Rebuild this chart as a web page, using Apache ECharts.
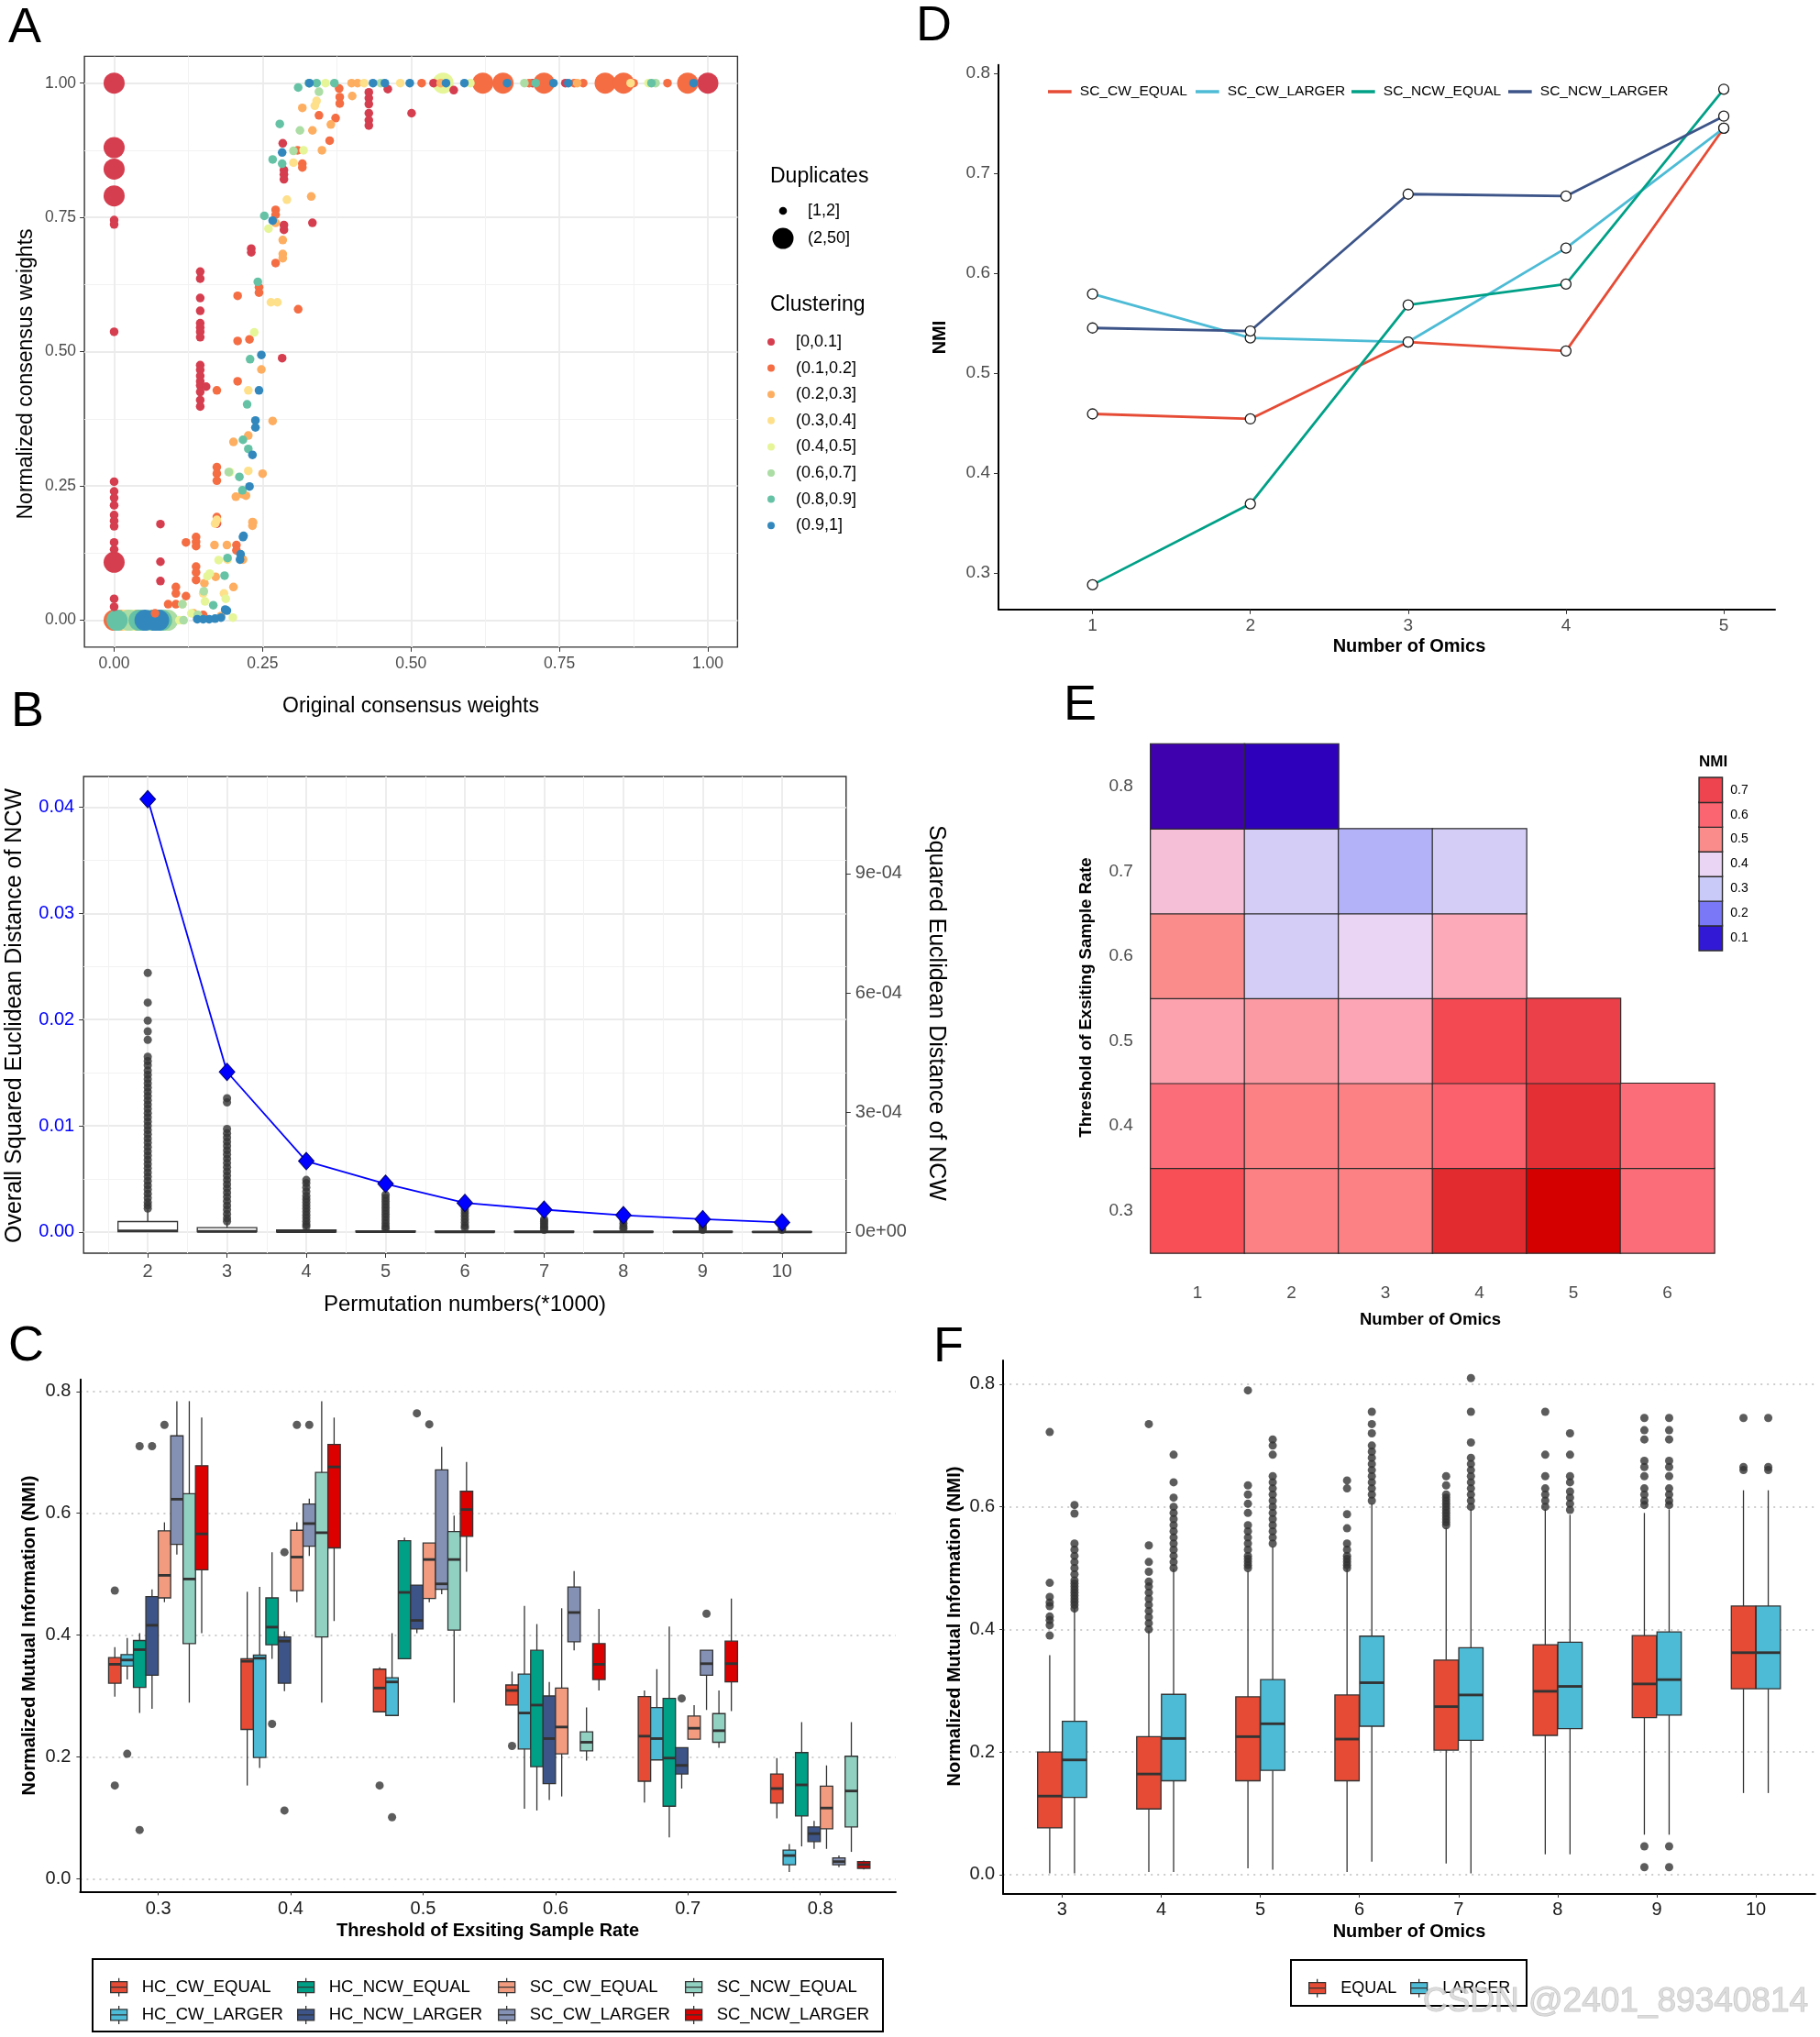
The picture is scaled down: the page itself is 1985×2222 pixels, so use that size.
<!DOCTYPE html>
<html>
<head>
<meta charset="utf-8">
<script src="https://cdn.jsdelivr.net/npm/echarts@6/dist/echarts.min.js"></script>
<style>
  html, body { margin: 0; padding: 0; background: #fff; }
  #chart { width: 1985px; height: 2222px; }
</style>
</head>
<body>
<div id="chart"></div>
<script>
// ---------------- Panel A : consensus weights ----------------
const clusterLabels = ['[0,0.1]', '(0.1,0.2]', '(0.2,0.3]', '(0.3,0.4]', '(0.4,0.5]', '(0.6,0.7]', '(0.8,0.9]', '(0.9,1]'];
const dupLabels = ['[1,2]', '(2,50]'];
const weightTicks = [0, 0.25, 0.5, 0.75, 1];
// [original weight, normalized weight, duplicates class: 1 = [1,2], 2 = (2,50]]
const clust01 = [[0,1,2],[0,0.88,2],[0,0.84,2],[0,0.79,2],[0,0.745,1],[0,0.737,1],[0,0.537,1],
  [0,0.258,1],[0,0.24,1],[0,0.228,1],[0,0.214,1],[0,0.196,1],[0,0.185,1],[0,0.175,1],[0,0.145,1],[0,0.132,1],[0,0.108,2],[0,0.04,1],[0,0.025,1],
  [0.078,0.179,1],[0.078,0.109,1],[0.078,0.073,1],
  [0.145,0.649,1],[0.145,0.636,1],[0.145,0.6,1],[0.145,0.576,1],[0.145,0.553,1],[0.145,0.545,1],[0.145,0.537,1],[0.145,0.527,1],
  [0.145,0.475,1],[0.145,0.466,1],[0.145,0.455,1],[0.145,0.445,1],[0.145,0.437,1],[0.145,0.425,1],[0.145,0.41,1],[0.145,0.398,1],[0.155,0.435,1],
  [0.173,0.18,1],[0.231,0.692,1],[0.231,0.685,1],
  [0.284,0.888,1],[0.286,0.838,1],[0.286,0.83,1],[0.286,0.821,1],[0.286,0.736,1],[0.286,0.727,1],[0.283,0.488,1],[0.334,0.74,1],
  [0.429,0.983,1],[0.429,0.972,1],[0.429,0.961,1],[0.429,0.944,1],[0.429,0.931,1],[0.429,0.921,1],
  [0.461,0.989,1],[0.501,0.944,1],[0.572,0.987,1],[0.538,1,1],[0.705,1,1],[0.76,1,1],[1,1,2]];
const clust02 = [[0,0,2],[0.621,1,2],[0.655,1,2],[0.724,1,2],[0.827,1,2],[0.858,1,2],[0.966,1,2],
  [0.518,1,1],[0.699,1,1],[0.775,1,1],[0.79,1,1],[0.875,1,1],[0.932,1,1],[0.379,0.99,1],
  [0.38,0.974,1],[0.38,0.962,1],[0.373,0.935,1],[0.345,0.94,1],[0.363,0.893,1],[0.309,0.875,1],[0.317,0.85,1],[0.317,0.843,1],
  [0.272,0.764,1],[0.272,0.755,1],[0.272,0.665,1],[0.31,0.579,1],[0.244,0.62,1],[0.244,0.61,1],[0.208,0.604,1],[0.208,0.52,1],
  [0.228,0.523,1],[0.208,0.445,1],[0.173,0.428,1],
  [0.173,0.285,1],[0.173,0.273,1],[0.173,0.26,1],[0.173,0.192,1],[0.173,0.182,1],[0.206,0.14,1],[0.206,0.13,1],[0.216,0.114,1],
  [0.121,0.145,1],[0.138,0.155,1],[0.138,0.146,1],[0.138,0.138,1],[0.138,0.1,1],[0.138,0.089,1],[0.138,0.075,1],
  [0.104,0.062,1],[0.104,0.05,1],[0.104,0.03,1],[0.091,0.03,1],[0.121,0.045,1],[0.069,0.013,1],[0.15,0.01,1]];
const clust03 = [[0.012,0,2],[0.036,0,2],[0.4,1,1],[0.41,1,1],[0.55,1,1],[0.78,1,1],
  [0.401,0.976,1],[0.317,0.954,1],[0.334,0.912,1],[0.365,0.923,1],[0.35,0.875,1],[0.332,0.789,1],[0.272,0.74,1],
  [0.284,0.708,1],[0.284,0.682,1],[0.284,0.674,1],[0.248,0.467,1],[0.267,0.371,1],[0.226,0.344,1],[0.201,0.332,1],
  [0.25,0.273,1],[0.222,0.232,1],[0.216,0.235,1],[0.205,0.23,1],[0.233,0.183,1],[0.233,0.176,1],[0.234,0.182,1],
  [0.169,0.14,1],[0.19,0.14,1],[0.217,0.113,1],[0.171,0.081,1],[0.201,0.062,1],[0.152,0.069,1],[0.134,0.013,1],[0.18,0.008,1]];
const clust04 = [[0.02,0,2],[0.047,0,2],[0.421,1,1],[0.482,1,1],[0.87,1,1],
  [0.341,0.967,1],[0.338,0.958,1],[0.302,0.852,1],[0.291,0.783,1],[0.264,0.592,1],[0.275,0.592,1],[0.226,0.428,1],
  [0.226,0.278,1],[0.173,0.187,1],[0.17,0.18,1],[0.191,0.113,1],[0.115,0.03,1],[0.15,0.05,1],[0.185,0.05,1]];
const clust05 = [[0.03,0,2],[0.554,1,2],[0.356,1,1],[0.6,1,1],[0.9,1,1],
  [0.319,0.875,1],[0.26,0.729,1],[0.236,0.536,1],[0.195,0.276,1],[0.176,0.112,1],[0.161,0.087,1],[0.157,0.082,1],
  [0.153,0.035,1],[0.188,0.04,1],[0.13,0.013,1],[0.11,0,1],[0.2,0.005,1]];
const clust06 = [[0.025,0,2],[0.062,0,2],[0.09,0,2],[0.449,1,1],[0.691,1,1],[0.912,1,1],
  [0.345,0.984,1],[0.313,0.912,1],[0.302,0.874,1],[0.193,0.276,1],[0.151,0.054,1],[0.115,0.03,1],[0.141,0.01,1],[0.117,0,1]];
const clust07 = [[0.005,0,2],[0.042,0,2],[0.08,0,2],[0.328,1,1],[0.341,1,1],[0.371,1,1],[0.71,1,1],[0.905,1,1],
  [0.31,0.992,1],[0.279,0.924,1],[0.267,0.858,1],[0.283,0.85,1],[0.253,0.753,1],[0.242,0.63,1],[0.229,0.486,1],
  [0.224,0.402,1],[0.217,0.336,1],[0.226,0.319,1],[0.211,0.267,1],[0.216,0.242,1],[0.191,0.116,1],[0.186,0.083,1],[0.167,0.028,1]];
const clust08 = [[0.052,0,2],[0.068,0,2],[0.075,0,2],
  [0.329,1,1],[0.436,1,1],[0.456,1,1],[0.498,1,1],[0.559,1,1],[0.59,1,1],[0.662,1,1],[0.74,1,1],[0.765,1,1],[0.976,1,1],
  [0.283,0.871,1],[0.267,0.744,1],[0.248,0.494,1],[0.244,0.428,1],[0.238,0.372,1],[0.238,0.359,1],[0.233,0.308,1],
  [0.228,0.249,1],[0.217,0.155,1],[0.218,0.157,1],[0.213,0.123,1],[0.212,0.113,1],[0.19,0.018,1],[0.187,0.02,1],
  [0.18,0.005,1],[0.17,0.003,1],[0.16,0.002,1],[0.15,0.002,1],[0.14,0.002,1]];
const clusterPoints = [clust01, clust02, clust03, clust04, clust05, clust06, clust07, clust08];

// ---------------- Panel B : permutation numbers ----------------
const permCats = ['2', '3', '4', '5', '6', '7', '8', '9', '10'];
// [min, Q1, median, Q3, max] of overall squared euclidean distance
const permBoxes = [
  [0, 0.00003, 0.0001, 0.00098, 0.0021],
  [0, 0.00001, 0.00005, 0.0004, 0.0009],
  [0, 0, 0.00003, 0.00018, 0.0004],
  [0, 0, 0.00002, 0.00011, 0.00026],
  [0, 0, 0.00001, 0.00008, 0.00018],
  [0, 0, 0.00001, 0.00005, 0.00012],
  [0, 0, 0.00001, 0.00004, 0.0001],
  [0, 0, 0.00001, 0.00003, 0.00007],
  [0, 0, 0, 0.00002, 0.00005]
];
const permOutliers = [
  [0.0244,0.0216,0.0199,0.0189,0.0181,0.0165,0.0161,0.0157,0.0152,0.0148,0.0144,0.014,0.0136,0.0132,0.0128,0.0124,0.012,
   0.0116,0.0112,0.0108,0.0104,0.01,0.0096,0.0092,0.0088,0.0084,0.008,0.0076,0.0072,0.0068,0.0064,0.006,0.0056,0.0052,
   0.0048,0.0044,0.004,0.0036,0.0032,0.0028,0.0025,0.0022],
  [0.0126,0.0122,0.0097,0.0093,0.0089,0.0085,0.0081,0.0077,0.0073,0.0069,0.0065,0.0061,0.0057,0.0053,0.0049,0.0045,
   0.0041,0.0037,0.0033,0.0029,0.0025,0.0021,0.0017,0.0013,0.001],
  [0.0049,0.0046,0.0042,0.0038,0.0034,0.0031,0.0028,0.0025,0.0022,0.0019,0.0016,0.0013,0.001,0.0007,0.0005],
  [0.0035,0.0032,0.0029,0.0026,0.0023,0.002,0.0017,0.0014,0.0011,0.0008,0.0005,0.0003],
  [0.0021,0.0018,0.0015,0.0012,0.0009,0.0006,0.0004],
  [0.0012,0.001,0.0008,0.0006,0.0004,0.0002],
  [0.0011,0.0008,0.0005,0.0003],
  [0.0008,0.0006,0.0004,0.0002],
  [0.0003,0.0002]
];
// squared euclidean distance of NCW (right axis)
const permNcw = [1.087e-3, 4.02e-4, 1.78e-4, 1.21e-4, 7.3e-5, 5.6e-5, 4.2e-5, 3.2e-5, 2.4e-5];
const permLeftTicks = [0, 0.01, 0.02, 0.03, 0.04];
const permRightTicks = [0, 3e-4, 6e-4, 9e-4];

// ---------------- Panel C : NMI by threshold ----------------
const thresholdCats = ['0.3', '0.4', '0.5', '0.6', '0.7', '0.8'];
const methodNames = ['HC_CW_EQUAL', 'HC_CW_LARGER', 'HC_NCW_EQUAL', 'HC_NCW_LARGER',
                     'SC_CW_EQUAL', 'SC_CW_LARGER', 'SC_NCW_EQUAL', 'SC_NCW_LARGER'];
const hcCwEqual = [[0.299,0.321,0.352,0.363,0.38],[0.153,0.245,0.357,0.361,0.471],[0.274,0.274,0.313,0.344,0.347],
                   [0.285,0.285,0.309,0.318,0.34],[0.125,0.16,0.234,0.299,0.309],[0.099,0.124,0.148,0.172,0.198]];
const hcCwLarger = [[0.327,0.349,0.359,0.368,0.395],[0.182,0.199,0.362,0.367,0.479],[0.268,0.268,0.323,0.33,0.403],
                    [0.115,0.213,0.272,0.336,0.448],[0.195,0.195,0.23,0.281,0.344],[0.011,0.023,0.038,0.047,0.057]];
const hcNcwEqual = [[0.272,0.314,0.376,0.391,0.403],[0.361,0.384,0.413,0.461,0.536],[0.361,0.361,0.47,0.555,0.56],
                    [0.112,0.184,0.285,0.375,0.418],[0.068,0.119,0.198,0.296,0.414],[0.053,0.103,0.154,0.207,0.257]];
const hcNcwLarger = [[0.279,0.334,0.416,0.463,0.475],[0.308,0.321,0.39,0.397,0.406],[0.403,0.41,0.424,0.482,0.482],
                     [0.129,0.156,0.23,0.3,0.323],[0.148,0.172,0.186,0.215,0.215],[0.049,0.061,0.074,0.085,0.095]];
const scCwEqual = [[0.454,0.461,0.498,0.571,0.585],[0.454,0.473,0.528,0.572,0.585],[0.454,0.46,0.524,0.551,0.551],
                   [0.135,0.205,0.249,0.313,0.444],[0.229,0.229,0.247,0.267,0.285],[0.049,0.082,0.116,0.152,0.186]];
const scCwLarger = [[0.532,0.549,0.623,0.727,0.784],[0.53,0.546,0.583,0.615,0.624],[0.467,0.475,0.484,0.671,0.709],
                    [0.375,0.389,0.437,0.479,0.505],[0.277,0.334,0.353,0.375,0.375],[0.019,0.023,0.028,0.034,0.038]];
const scNcwEqual = [[0.289,0.386,0.492,0.632,0.784],[0.289,0.397,0.568,0.667,0.784],[0.289,0.408,0.524,0.57,0.596],
                    [0.194,0.21,0.224,0.241,0.281],[0.215,0.224,0.243,0.271,0.309],[0.044,0.085,0.144,0.201,0.257]];
const scNcwLarger = [[0.403,0.507,0.566,0.678,0.757],[0.423,0.543,0.676,0.713,0.757],[0.504,0.562,0.606,0.636,0.684],
                     [0.309,0.327,0.352,0.386,0.443],[0.275,0.323,0.353,0.39,0.46],[0.015,0.017,0.023,0.028,0.03]];
const methodBoxes = [hcCwEqual, hcCwLarger, hcNcwEqual, hcNcwLarger, scCwEqual, scCwLarger, scNcwEqual, scNcwLarger];
const methodOutliers = [
  [[0.473,0.153],[],[0.153],[0.218],[],[]],
  [[0.205],[],[0.101],[],[],[]],
  [[0.71,0.08],[0.254],[],[],[],[]],
  [[0.71],[0.536,0.112],[0.764],[],[0.296],[]],
  [[0.745],[0.745],[0.746],[],[],[]],
  [[],[0.745],[],[],[0.435],[]],
  [[],[],[],[],[],[]],
  [[],[],[],[],[],[]]
];
const nmiTicks = [0, 0.2, 0.4, 0.6, 0.8];

// ---------------- Panel D : NMI by number of omics ----------------
const omicsD = [1, 2, 3, 4, 5];
const lineNames = ['SC_CW_EQUAL', 'SC_CW_LARGER', 'SC_NCW_EQUAL', 'SC_NCW_LARGER'];
const scCwEqualNmi = [0.459, 0.454, 0.531, 0.522, 0.745];
const scCwLargerNmi = [0.579, 0.535, 0.531, 0.625, 0.745];
const scNcwEqualNmi = [0.288, 0.369, 0.568, 0.589, 0.784];
const scNcwLargerNmi = [0.545, 0.542, 0.679, 0.677, 0.757];
const lineValues = [scCwEqualNmi, scCwLargerNmi, scNcwEqualNmi, scNcwLargerNmi];
const dTicks = [0.3, 0.4, 0.5, 0.6, 0.7, 0.8];

// ---------------- Panel E : NMI heatmap ----------------
const omicsE = ['1', '2', '3', '4', '5', '6'];
const thresholdE = ['0.3', '0.4', '0.5', '0.6', '0.7', '0.8'];
const heatRows = [
  [0.66, 0.53, 0.53, 0.75, 0.80, 0.58],
  [0.58, 0.53, 0.53, 0.61, 0.74, 0.58],
  [0.47, 0.48, 0.465, 0.68, 0.71, null],
  [0.50, 0.33, 0.40, 0.46, null, null],
  [0.43, 0.33, 0.27, 0.33, null, null],
  [0.02, 0.05, null, null, null, null]
];
const nmiLegendValues = [0.1, 0.2, 0.3, 0.4, 0.5, 0.6, 0.7];

// ---------------- Panel F : EQUAL vs LARGER ----------------
const omicsF = ['3', '4', '5', '6', '7', '8', '9', '10'];
const groupNames = ['EQUAL', 'LARGER'];
const equalBoxes = [[0.002,0.076,0.128,0.2,0.358],[0.004,0.107,0.164,0.225,0.398],[0.01,0.153,0.225,0.29,0.495],
  [0.004,0.153,0.221,0.293,0.499],[0.018,0.203,0.274,0.35,0.566],[0.033,0.227,0.299,0.375,0.596],
  [0.065,0.256,0.311,0.39,0.59],[0.133,0.303,0.362,0.438,0.627]];
const largerBoxes = [[0.002,0.126,0.187,0.25,0.434],[0.004,0.153,0.222,0.294,0.499],[0.008,0.17,0.246,0.318,0.535],
  [0.021,0.242,0.313,0.389,0.605],[0.002,0.219,0.293,0.37,0.596],[0.033,0.238,0.307,0.379,0.587],
  [0.065,0.26,0.318,0.396,0.596],[0.133,0.303,0.362,0.438,0.627]];
const equalOutliers = [
  [0.39,0.407,0.415,0.421,0.438,0.444,0.453,0.476,0.722],
  [0.4,0.41,0.42,0.43,0.44,0.45,0.46,0.47,0.478,0.494,0.51,0.537,0.735],
  [0.5,0.505,0.51,0.515,0.52,0.53,0.54,0.55,0.56,0.57,0.59,0.605,0.62,0.635,0.79],
  [0.5,0.505,0.51,0.515,0.52,0.53,0.54,0.565,0.588,0.63,0.643],
  [0.57,0.575,0.58,0.585,0.59,0.595,0.6,0.605,0.61,0.615,0.62,0.635,0.65],
  [0.6,0.61,0.62,0.63,0.65,0.685,0.755],
  [0.603,0.61,0.62,0.63,0.65,0.665,0.675,0.71,0.725,0.745,0.046,0.012],
  [0.66,0.665,0.745]
];
const largerOutliers = [
  [0.434,0.44,0.445,0.45,0.455,0.46,0.465,0.47,0.475,0.48,0.49,0.5,0.51,0.52,0.53,0.54,0.589,0.603],
  [0.5,0.51,0.52,0.53,0.54,0.55,0.56,0.57,0.58,0.59,0.6,0.615,0.64,0.685],
  [0.54,0.55,0.56,0.57,0.58,0.59,0.6,0.61,0.62,0.63,0.64,0.65,0.685,0.7,0.71],
  [0.61,0.62,0.63,0.64,0.65,0.66,0.67,0.68,0.69,0.7,0.72,0.735,0.755],
  [0.6,0.61,0.62,0.63,0.64,0.65,0.66,0.67,0.68,0.705,0.755,0.81],
  [0.595,0.605,0.615,0.625,0.64,0.65,0.685,0.72],
  [0.603,0.61,0.62,0.63,0.65,0.665,0.675,0.71,0.725,0.745,0.046,0.012],
  [0.66,0.665,0.745]
];

// ---------------- styles ----------------
const SANS = '"Liberation Sans", Arial, Helvetica, sans-serif';
const GRAY = '#4D4D4D';
const INK = '#333333';
const clusterColors = ['#D53E4F', '#F46D43', '#FDAE61', '#FEE08B', '#E6F598', '#ABDDA4', '#66C2A5', '#3288BD'];
const npg = ['#E64B35', '#4DBBD5', '#00A087', '#3C5488', '#F39B7F', '#8491B4', '#91D1C2', '#DC0000'];
const nmiColors = ['#4A00A6','#2E00BB','#3219D5','#5548E6','#7A78F6','#A3A1F7','#CACAF8','#DAD0F6','#EAD6F4',
                   '#FCB0C6','#FB8C8C','#FC7A80','#FB6572','#FA5058','#EE4450','#E12B2E','#D40000'];
const BOX_ICON = 'path://M11,0L11,4M2,4L20,4L20,16L2,16ZM2,10L20,10M11,16L11,20';

const grids = [], xAxes = [], yAxes = [], series = [], legends = [], graphics = [];
const addGrid = g => { grids.push(g); return grids.length - 1; };
const addX = a => { xAxes.push(a); return xAxes.length - 1; };
const addY = a => { yAxes.push(a); return yAxes.length - 1; };
const addSeries = s => { series.push(s); return series.length - 1; };

function text(str, x, y, font, opts = {}) {
  graphics.push({
    type: 'text', x, y, rotation: opts.rotation || 0, z: 50,
    style: { text: str, font, fill: opts.fill || '#000', align: opts.align || 'center', verticalAlign: 'middle' }
  });
}

// value axis whose ticks / split lines sit exactly on given values
function valueAxis(gridIndex, min, max, values, extra = {}) {
  return Object.assign({
    gridIndex, type: 'value', min, max,
    axisLine: { show: false, onZero: false },
    axisTick: { show: false, customValues: values },
    axisLabel: { show: false, customValues: values },
    splitLine: { show: false }
  }, extra);
}

function boxItem(offset, width, fill, lw) {
  return function (params, api) {
    const x = api.value(0) + offset;
    const lo = api.coord([x, api.value(1)]);
    const q1 = api.coord([x, api.value(2)]);
    const md = api.coord([x, api.value(3)]);
    const q3 = api.coord([x, api.value(4)]);
    const hi = api.coord([x, api.value(5)]);
    const half = api.size([width, 0])[0] / 2;
    return {
      type: 'group',
      children: [
        { type: 'line', shape: { x1: hi[0], y1: hi[1], x2: q3[0], y2: q3[1] }, style: { stroke: INK, lineWidth: lw } },
        { type: 'line', shape: { x1: q1[0], y1: q1[1], x2: lo[0], y2: lo[1] }, style: { stroke: INK, lineWidth: lw } },
        { type: 'rect', shape: { x: q3[0] - half, y: q3[1], width: half * 2, height: Math.max(q1[1] - q3[1], 0) },
          style: { fill, stroke: INK, lineWidth: lw } },
        { type: 'line', shape: { x1: md[0] - half, y1: md[1], x2: md[0] + half, y2: md[1] },
          style: { stroke: INK, lineWidth: lw * 2.2 } }
      ]
    };
  };
}

function addBoxes(name, boxes, outliers, xi, yi, offset, width, fill, lw, dot) {
  addSeries({
    type: 'custom', name, xAxisIndex: xi, yAxisIndex: yi,
    data: boxes.map((b, i) => [i].concat(b)),
    encode: { x: 0, y: [1, 2, 3, 4, 5] },
    itemStyle: { color: fill },
    renderItem: boxItem(offset, width, fill, lw), z: 3
  });
  const pts = [];
  outliers.forEach((list, i) => list.forEach(v => pts.push([i + offset, v])));
  addSeries({
    type: 'scatter', name: 'outliers ' + name, xAxisIndex: xi, yAxisIndex: yi, data: pts,
    symbolSize: dot, itemStyle: { color: INK }, z: 4
  });
}

// ================= A =================
const gA = addGrid({ left: 92.1, top: 61.4, width: 712.3, height: 644.5, show: true, borderColor: INK, borderWidth: 1.4 });
const xA = addX(valueAxis(gA, -0.05, 1.05, weightTicks, {
  position: 'bottom',
  axisTick: { show: true, length: 5, lineStyle: { color: INK }, customValues: weightTicks },
  axisLabel: { show: true, customValues: weightTicks, formatter: v => v.toFixed(2), fontSize: 17.5, color: GRAY, margin: 9 },
  splitLine: { show: true, lineStyle: { color: '#EBEBEB', width: 1.8 } }
}));
addX(valueAxis(gA, -0.05, 1.05, [0.125, 0.375, 0.625, 0.875], { position: 'bottom', splitLine: { show: true, lineStyle: { color: '#F2F2F2', width: 1 } } }));
const yA = addY(valueAxis(gA, -0.05, 1.05, weightTicks, {
  position: 'left',
  axisTick: { show: true, length: 5, lineStyle: { color: INK }, customValues: weightTicks },
  axisLabel: { show: true, customValues: weightTicks, formatter: v => v.toFixed(2), fontSize: 17.5, color: GRAY, margin: 9 },
  splitLine: { show: true, lineStyle: { color: '#EBEBEB', width: 1.8 } }
}));
addY(valueAxis(gA, -0.05, 1.05, [0.125, 0.375, 0.625, 0.875], { position: 'left', splitLine: { show: true, lineStyle: { color: '#F2F2F2', width: 1 } } }));
// big points first, small points on top
[2, 1].forEach(dup => {
  clusterPoints.forEach((pts, i) => addSeries({
    type: 'scatter', name: clusterLabels[i], xAxisIndex: xA, yAxisIndex: yA,
    data: pts.filter(p => p[2] === dup),
    symbolSize: v => (v[2] === 2 ? 23 : 9.5),
    itemStyle: { color: clusterColors[i], opacity: 1 }, z: dup === 2 ? 2 : 3
  }));
});
legends.push({
  orient: 'vertical', left: 832, top: 359, itemWidth: 44, itemHeight: 8, itemGap: 10.6, icon: 'circle',
  selectedMode: false, data: clusterLabels,
  textStyle: { fontSize: 18, lineHeight: 18, color: '#000', fontFamily: SANS }
});
text('Duplicates', 840, 193, '23px ' + SANS, { align: 'left' });
graphics.push({ type: 'circle', shape: { cx: 854, cy: 230, r: 4.3 }, style: { fill: '#000' } });
graphics.push({ type: 'circle', shape: { cx: 854, cy: 260, r: 11.5 }, style: { fill: '#000' } });
text(dupLabels[0], 881, 230, '18px ' + SANS, { align: 'left' });
text(dupLabels[1], 881, 260, '18px ' + SANS, { align: 'left' });
text('Clustering', 840, 333, '23px ' + SANS, { align: 'left' });
text('Original consensus weights', 448, 771, '23px ' + SANS);
text('Normalized consensus weights', 29, 408, '23px ' + SANS, { rotation: Math.PI / 2 });

// ================= B =================
const NCW_RATIO = 37.5;
const bMin = -0.002, bMax = 0.0429;
const gB = addGrid({ left: 91.2, top: 847, width: 831.6, height: 520, show: true, borderColor: INK, borderWidth: 1.4 });
const permIdx = permCats.map((c, i) => i);
const xB = addX(valueAxis(gB, -0.809, 8.809, permIdx, {
  position: 'bottom',
  axisTick: { show: true, length: 5, lineStyle: { color: INK }, customValues: permIdx },
  axisLabel: { show: true, customValues: permIdx, formatter: v => permCats[Math.round(v)], fontSize: 20, color: GRAY, margin: 10 },
  splitLine: { show: true, lineStyle: { color: '#EBEBEB', width: 1.8 } }
}));
addX(valueAxis(gB, -0.809, 8.809, permIdx.concat([8]).map(i => i - 0.5), { position: 'bottom', splitLine: { show: true, lineStyle: { color: '#F2F2F2', width: 1 } } }));
const yB = addY(valueAxis(gB, bMin, bMax, permLeftTicks, {
  position: 'left',
  axisTick: { show: true, length: 5, lineStyle: { color: INK }, customValues: permLeftTicks },
  axisLabel: { show: true, customValues: permLeftTicks, formatter: v => v.toFixed(2), fontSize: 20, color: '#0000FF', margin: 10 },
  splitLine: { show: true, lineStyle: { color: '#EBEBEB', width: 1.8 } }
}));
addY(valueAxis(gB, bMin, bMax, [0.005, 0.015, 0.025, 0.035], { position: 'left', splitLine: { show: true, lineStyle: { color: '#F2F2F2', width: 1 } } }));
const rExp = v => {
  if (Math.abs(v) < 1e-12) return '0e+00';
  const parts = v.toExponential(0).split('e');
  const n = parseInt(parts[1], 10);
  return parts[0] + 'e' + (n < 0 ? '-' : '+') + String(Math.abs(n)).padStart(2, '0');
};
const yBR = addY(valueAxis(gB, bMin / NCW_RATIO, bMax / NCW_RATIO, permRightTicks, {
  position: 'right',
  axisTick: { show: true, length: 5, lineStyle: { color: INK }, customValues: permRightTicks },
  axisLabel: { show: true, customValues: permRightTicks, formatter: rExp, fontSize: 20, color: GRAY, margin: 10 }
}));
addBoxes('permutation', permBoxes, permOutliers, xB, yB, 0, 0.75, '#FFFFFF', 1.3, 9);
addSeries({
  type: 'line', name: 'NCW distance', xAxisIndex: xB, yAxisIndex: yBR,
  data: permNcw.map((v, i) => [i, v]),
  symbol: 'diamond', symbolSize: [17, 19],
  lineStyle: { color: '#0000FF', width: 1.8 },
  itemStyle: { color: '#0000FF', borderColor: '#00006E', borderWidth: 1 }, z: 6
});
text('Permutation numbers(*1000)', 507, 1423, '24px ' + SANS);
text('Overall Squared Euclidean Distance of NCW', 16, 1108, '25px ' + SANS, { rotation: Math.PI / 2 });
text('Squared Euclidean Distance of NCW', 1021, 1105, '25px ' + SANS, { rotation: -Math.PI / 2 });

// ================= C =================
const gC = addGrid({ left: 87.4, top: 1504.8, width: 889.6, height: 558.6 });
const thrIdx = thresholdCats.map((c, i) => i);
const xC = addX(valueAxis(gC, -0.59, 5.57, thrIdx, {
  position: 'bottom',
  axisLine: { show: true, onZero: false, lineStyle: { color: '#000', width: 2 } },
  axisTick: { show: true, length: 4, lineStyle: { color: INK }, customValues: thrIdx },
  axisLabel: { show: true, customValues: thrIdx, formatter: v => thresholdCats[Math.round(v)], fontSize: 20, color: '#1A1A1A', margin: 9 }
}));
const yC = addY(valueAxis(gC, -0.0212, 0.8195, nmiTicks, {
  position: 'left',
  axisLine: { show: true, onZero: false, lineStyle: { color: '#000', width: 2 } },
  axisTick: { show: true, length: 4, lineStyle: { color: INK }, customValues: nmiTicks },
  axisLabel: { show: true, customValues: nmiTicks, formatter: v => v.toFixed(1), fontSize: 20, color: '#1A1A1A', margin: 10 },
  splitLine: { show: true, lineStyle: { color: '#BDBDBD', width: 1.6, type: [2, 5] } }
}));
const cWidth = 0.75 / methodNames.length;
methodNames.forEach((name, k) => {
  addBoxes(name, methodBoxes[k], methodOutliers[k], xC, yC, (k - 3.5) * cWidth, cWidth, npg[k], 1.3, 9);
});
const cCols = [[0, 1], [2, 3], [4, 5], [6, 7]];
const cLeft = [115, 319, 538, 742];
cCols.forEach((pair, c) => legends.push({
  orient: 'vertical', left: cLeft[c], top: 2152, itemWidth: 40, itemHeight: 20, itemGap: 9,
  icon: BOX_ICON, selectedMode: false,
  itemStyle: { borderColor: INK, borderWidth: 1.3 },
  data: pair.map(k => methodNames[k]),
  textStyle: { fontSize: 18.5, lineHeight: 20, color: '#000', fontFamily: SANS }
}));
graphics.push({ type: 'rect', shape: { x: 101, y: 2137, width: 862, height: 79 }, style: { fill: 'none', stroke: '#000', lineWidth: 2 } });
text('Threshold of Exsiting Sample Rate', 532, 2106, 'bold 20px ' + SANS);
text('Normalized Mutual Information (NMI)', 32, 1784, 'bold 20px ' + SANS, { rotation: Math.PI / 2 });

// ================= D =================
const gD = addGrid({ left: 1089, top: 70.8, width: 847, height: 594 });
const xD = addX(valueAxis(gD, 0.404, 5.325, omicsD, {
  position: 'bottom',
  axisLine: { show: true, onZero: false, lineStyle: { color: '#000', width: 2 } },
  axisTick: { show: true, length: 5, lineStyle: { color: INK }, customValues: omicsD },
  axisLabel: { show: true, customValues: omicsD, formatter: v => String(v), fontSize: 19, color: GRAY, margin: 8 }
}));
const yD = addY(valueAxis(gD, 0.2633, 0.8083, dTicks, {
  position: 'left',
  axisLine: { show: true, onZero: false, lineStyle: { color: '#000', width: 2 } },
  axisTick: { show: true, length: 5, lineStyle: { color: INK }, customValues: dTicks },
  axisLabel: { show: true, customValues: dTicks, formatter: v => v.toFixed(1), fontSize: 19, color: GRAY, margin: 9 }
}));
const lineColors = [npg[0], npg[1], npg[2], npg[3]];
lineNames.forEach((name, k) => addSeries({
  type: 'line', name, xAxisIndex: xD, yAxisIndex: yD,
  data: lineValues[k].map((v, i) => [omicsD[i], v]),
  symbol: 'circle', symbolSize: 11,
  lineStyle: { color: lineColors[k], width: 2.8 },
  itemStyle: { color: '#FFFFFF', borderColor: '#1A1A1A', borderWidth: 1.3 }, z: 3 + k
}));
const dLeft = [1138, 1299, 1469, 1640];
lineNames.forEach((name, k) => legends.push({
  orient: 'horizontal', left: dLeft[k], top: 87, itemWidth: 34, itemHeight: 3.5,
  icon: 'path://M0,0L22,0L22,3L0,3Z', selectedMode: false,
  itemStyle: { borderWidth: 0 },
  data: [{ name, itemStyle: { color: lineColors[k], borderWidth: 0 } }],
  textStyle: { fontSize: 15.5, color: '#000', fontFamily: SANS }
}));
text('Number of Omics', 1537, 705, 'bold 20px ' + SANS);
text('NMI', 1025, 368, 'bold 20px ' + SANS, { rotation: Math.PI / 2 });

// ================= E =================
const gE = addGrid({ left: 1254.9, top: 811.5, width: 615, height: 555.4 });
const xE = addX({
  gridIndex: gE, type: 'category', data: omicsE,
  axisLine: { show: false }, axisTick: { show: false }, splitLine: { show: false },
  axisLabel: { fontSize: 19, color: GRAY, margin: 34 }
});
const yE = addY({
  gridIndex: gE, type: 'category', data: thresholdE,
  axisLine: { show: false }, axisTick: { show: false }, splitLine: { show: false },
  axisLabel: { fontSize: 19, color: GRAY, margin: 19 }
});
const heatData = [];
heatRows.forEach((row, r) => row.forEach((v, c) => { if (v !== null) heatData.push([c, r, v]); }));
const sE = addSeries({
  type: 'heatmap', name: 'NMI', xAxisIndex: xE, yAxisIndex: yE, data: heatData,
  itemStyle: { borderColor: '#2A2A2A', borderWidth: 1.2 }, z: 2
});
const gEL = addGrid({ left: 1853.3, top: 848.3, width: 25, height: 188.4 });
const xEL = addX({ gridIndex: gEL, type: 'category', data: ['NMI'], show: false });
const yEL = addY({
  gridIndex: gEL, type: 'category', position: 'right', data: nmiLegendValues.map(v => v.toFixed(1)),
  axisLine: { show: false }, axisTick: { show: false }, splitLine: { show: false },
  axisLabel: { fontSize: 14, color: '#000', margin: 9 }
});
const sEL = addSeries({
  type: 'heatmap', name: 'NMI key', xAxisIndex: xEL, yAxisIndex: yEL,
  data: nmiLegendValues.map((v, i) => [0, i, v]),
  itemStyle: { borderColor: '#2A2A2A', borderWidth: 1.4 }
});
text('NMI', 1853, 831, 'bold 17px ' + SANS, { align: 'left' });
text('Number of Omics', 1560, 1440, 'bold 18.5px ' + SANS);
text('Threshold of Exsiting Sample Rate', 1185, 1088, 'bold 18.5px ' + SANS, { rotation: Math.PI / 2 });

// ================= F =================
const gF = addGrid({ left: 1094.2, top: 1483.9, width: 885.7, height: 582 });
const omIdx = omicsF.map((c, i) => i);
const xF = addX(valueAxis(gF, -0.594, 7.6, omIdx, {
  position: 'bottom',
  axisLine: { show: true, onZero: false, lineStyle: { color: '#000', width: 2 } },
  axisTick: { show: true, length: 4, lineStyle: { color: INK }, customValues: omIdx },
  axisLabel: { show: true, customValues: omIdx, formatter: v => omicsF[Math.round(v)], fontSize: 20, color: '#1A1A1A', margin: 8 }
}));
const yF = addY(valueAxis(gF, -0.0316, 0.839, nmiTicks, {
  position: 'left',
  axisLine: { show: true, onZero: false, lineStyle: { color: '#000', width: 2 } },
  axisTick: { show: true, length: 4, lineStyle: { color: INK }, customValues: nmiTicks },
  axisLabel: { show: true, customValues: nmiTicks, formatter: v => v.toFixed(1), fontSize: 20, color: '#1A1A1A', margin: 9 },
  splitLine: { show: true, lineStyle: { color: '#BDBDBD', width: 1.6, type: [2, 5] } }
}));
addBoxes(groupNames[0], equalBoxes, equalOutliers, xF, yF, -0.125, 0.245, npg[0], 1.3, 9);
addBoxes(groupNames[1], largerBoxes, largerOutliers, xF, yF, 0.125, 0.245, npg[1], 1.3, 9);
const fLeft = [1422, 1533];
groupNames.forEach((name, k) => legends.push({
  orient: 'horizontal', left: fLeft[k], top: 2153, itemWidth: 41, itemHeight: 20,
  icon: BOX_ICON, selectedMode: false,
  itemStyle: { borderColor: INK, borderWidth: 1.3 },
  data: [name],
  textStyle: { fontSize: 18, color: '#000', fontFamily: SANS }
}));
graphics.push({ type: 'rect', shape: { x: 1408, y: 2138, width: 257, height: 50 }, style: { fill: 'none', stroke: '#000', lineWidth: 2 } });
text('Number of Omics', 1537, 2107, 'bold 20px ' + SANS);
text('Normalized Mutual Information (NMI)', 1041, 1774, 'bold 20px ' + SANS, { rotation: Math.PI / 2 });

// panel letters
[['A', 9, 31], ['B', 12, 777], ['C', 9, 1469], ['D', 999, 29], ['E', 1160, 770], ['F', 1018, 1470]]
  .forEach(([l, x, y]) => text(l, x, y, '54px ' + SANS, { align: 'left' }));

// watermark of the source image
graphics.push({
  type: 'text', x: 1762, y: 2184, z: 60,
  style: { text: 'CSDN @2401_89340814', font: '37px ' + SANS, fill: 'rgba(215,215,215,0.85)',
           stroke: 'rgba(170,170,170,0.7)', lineWidth: 1, align: 'center', verticalAlign: 'middle' }
});

const chart = echarts.init(document.getElementById('chart'));
chart.setOption({
  animation: false,
  backgroundColor: '#FFFFFF',
  textStyle: { fontFamily: SANS },
  grid: grids,
  xAxis: xAxes,
  yAxis: yAxes,
  legend: legends,
  visualMap: [{
    type: 'continuous', show: false, min: 0, max: 0.8, dimension: 2,
    seriesIndex: [sE, sEL], inRange: { color: nmiColors }
  }],
  series,
  graphic: graphics
});
</script>
</body>
</html>
